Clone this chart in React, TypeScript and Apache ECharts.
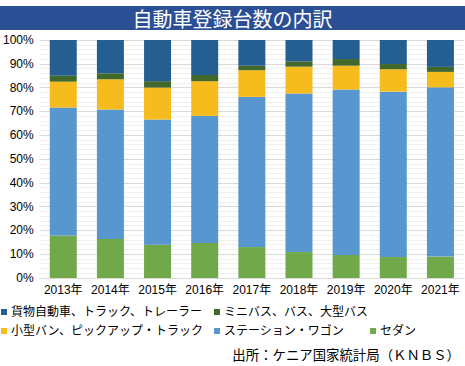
import React, { useEffect, useRef } from "react";
import * as echarts from "echarts";

const title = "自動車登録台数の内訳";
const source = "出所：ケニア国家統計局（ＫＮＢＳ）";
const years = ["2013年", "2014年", "2015年", "2016年", "2017年", "2018年", "2019年", "2020年", "2021年"];
const seriesNames = [
  "セダン",
  "ステーション・ワゴン",
  "小型バン、ピックアップ・トラック",
  "ミニバス、バス、大型バス",
  "貨物自動車、トラック、トレーラー",
];
const sedan = [17.9, 16.4, 14.0, 14.7, 13.0, 10.9, 9.7, 8.8, 9.0];
const wagon = [53.7, 54.4, 52.6, 53.4, 63.1, 66.6, 69.5, 69.5, 71.1];
const van = [10.9, 12.7, 13.4, 14.6, 11.2, 11.3, 10.0, 9.4, 6.5];
const bus = [2.5, 2.5, 2.7, 2.6, 1.9, 2.2, 2.8, 2.2, 2.1];
const truck = [15.0, 14.0, 17.3, 14.7, 10.8, 9.0, 8.0, 10.1, 11.3];
const colors = ["#70a84a", "#5896cf", "#f6bb1d", "#43682b", "#255e91"];

const FONT = "'Liberation Sans', 'Noto Sans CJK JP', sans-serif";
const CJK = "'Noto Sans CJK JP', sans-serif";

export default function App() {
  const ref = useRef<HTMLDivElement>(null);
  useEffect(() => {
    if (!ref.current) return;
    const chart = echarts.init(ref.current, undefined, { renderer: "svg" });
    const values = [sedan, wagon, van, bus, truck];
    const legendPos = [
      { name: seriesNames[4], left: 1, top: 306 },
      { name: seriesNames[3], left: 214, top: 306 },
      { name: seriesNames[2], left: 1, top: 325 },
      { name: seriesNames[1], left: 214, top: 325 },
      { name: seriesNames[0], left: 370, top: 325 },
    ];
    chart.setOption({
      animation: false,
      color: colors,
      textStyle: { fontFamily: FONT },
      graphic: [
        {
          type: "rect",
          shape: { x: 0, y: 6, width: 465, height: 24 },
          style: { fill: "#2b4f94" },
        },
        {
          type: "text",
          x: 232.5,
          y: 18,
          style: {
            text: title,
            fill: "#ffffff",
            font: `20px ${CJK}`,
            align: "center",
            verticalAlign: "middle",
          },
        },
        {
          type: "text",
          x: 460,
          y: 354,
          style: {
            text: source,
            fill: "#000000",
            font: `13.4px ${CJK}`,
            align: "right",
            verticalAlign: "middle",
          },
        },
      ],
      legend: legendPos.map((l) => ({
        data: [l.name],
        left: l.left,
        top: l.top,
        padding: 0,
        icon: "rect",
        itemWidth: 6,
        itemHeight: 6,
        itemGap: 0,
        textStyle: { fontSize: 12, color: "#000", fontFamily: FONT, padding: [0, 0, 0, -1] },
        selectedMode: false,
      })),
      grid: { left: 38, right: 1, top: 40, bottom: 88, containLabel: false },
      xAxis: {
        type: "category",
        data: years,
        axisLine: { show: true, lineStyle: { color: "#d9d9d9", width: 1 } },
        axisTick: { show: false },
        axisLabel: { color: "#000", fontSize: 12, margin: 6, interval: 0, fontFamily: FONT },
      },
      yAxis: {
        type: "value",
        min: 0,
        max: 100,
        interval: 10,
        axisLine: { show: false },
        axisTick: { show: false },
        axisLabel: { color: "#000", fontSize: 12, margin: 6, formatter: "{value}%", fontFamily: FONT },
        splitLine: { lineStyle: { color: "#d9d9d9", width: 1 } },
        minorTick: { show: false, splitNumber: 5 },
        minorSplitLine: { show: true, lineStyle: { color: "#f0f0f0", width: 1 } },
      },
      series: values.map((v, i) => ({
        name: seriesNames[i],
        type: "bar",
        stack: "total",
        barWidth: 27,
        data: v,
        itemStyle: { color: colors[i] },
      })),
    });
    return () => chart.dispose();
  }, []);
  return (
    <div
      ref={ref}
      style={{ position: "fixed", left: 0, top: 0, width: 465, height: 366, background: "#fff" }}
    />
  );
}
